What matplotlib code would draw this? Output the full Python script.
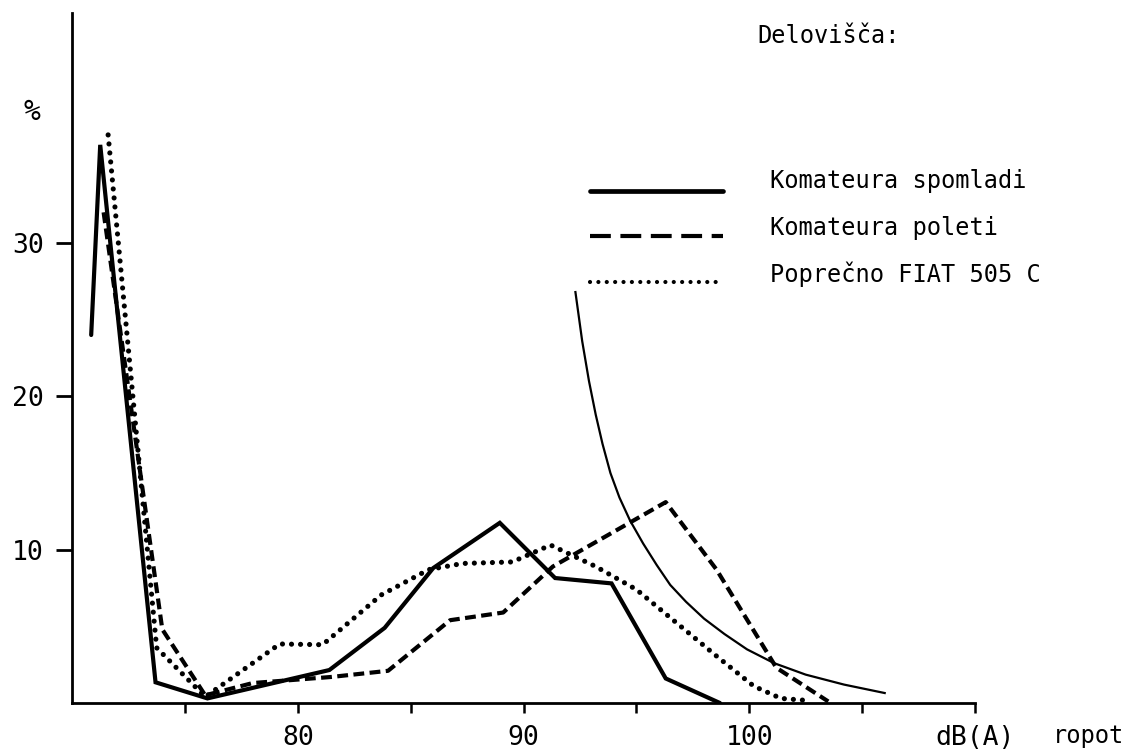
import matplotlib
matplotlib.use("Agg")
import matplotlib.pyplot as plt
from matplotlib.lines import Line2D

# ---- data ----
spomladi_x = [70.85, 71.25, 73.7, 76.0, 81.4, 83.85, 86.0, 88.95, 91.4, 93.9, 96.3, 98.7]
spomladi_y = [24.0, 36.4, 1.35, 0.3, 2.15, 4.9, 8.8, 11.75, 8.15, 7.8, 1.6, 0.0]

poleti_x = [71.4, 74.0, 75.9, 78.0, 81.5, 84.0, 86.75, 89.1, 91.3, 96.3, 98.55, 101.2, 103.5]
poleti_y = [32.0, 4.8, 0.5, 1.3, 1.7, 2.1, 5.4, 5.9, 8.9, 13.1, 8.7, 2.3, 0.1]

fiat_x = [71.6, 73.75, 75.9, 79.2, 81.1, 83.7, 85.8, 87.3, 89.5, 91.2, 93.2, 95.0, 96.8, 98.6, 100.2, 101.4, 102.7]
fiat_y = [37.05, 3.6, 0.4, 3.85, 3.8, 7.05, 8.7, 9.1, 9.2, 10.3, 8.9, 7.4, 5.2, 3.0, 1.1, 0.3, 0.15]

curve_x = [92.3, 92.6, 92.9, 93.2, 93.5, 93.85, 94.25, 94.72, 95.3, 95.9, 96.5, 97.2,
           98.0, 98.9, 99.9, 101.1, 102.5, 104.2, 106.0]
curve_y = [26.8, 23.6, 21.0, 18.8, 16.9, 15.0, 13.4, 11.9, 10.4, 9.0, 7.7, 6.6,
           5.5, 4.5, 3.5, 2.6, 1.85, 1.2, 0.65]

x_ticks = [75, 80, 85, 90, 95, 100, 105, 110]
x_tick_labels = ["", "80", "", "90", "", "100", "", "dB(A)"]
y_ticks = [10, 20, 30]
y_tick_labels = ["10", "20", "30"]

legend_labels = ["Komateura spomladi", "Komateura poleti", "Poprečno FIAT 505 C"]
legend_title = "Delovišča:"
y_unit = "%"
x_name = "ropot"

# ---- figure ----
FONT = "DejaVu Sans Mono"
W, H = 1130, 752
fig = plt.figure(figsize=(W / 100, H / 100), dpi=100)
ax = fig.add_axes([72 / W, 1 - 703 / H, (975 - 72) / W, (703 - 13) / H])
ax.set_xlim(70, 110)
ax.set_ylim(0, 45)

ax.plot(spomladi_x, spomladi_y, color="black", lw=3.0, solid_joinstyle="miter",
        solid_capstyle="round")
ax.plot(poleti_x, poleti_y, color="black", lw=3.0, linestyle=(0, (2.6, 1.3)),
        dash_capstyle="butt")
ax.plot(fiat_x, fiat_y, color="black", lw=3.7, linestyle=(0, (0.01, 1.75)),
        dash_capstyle="round")
ax.plot(curve_x, curve_y, color="black", lw=1.6)

for s in ["top", "right"]:
    ax.spines[s].set_visible(False)
for s in ["left", "bottom"]:
    ax.spines[s].set_linewidth(2.0)
    ax.spines[s].set_color("black")

ax.set_xticks(x_ticks)
ax.set_xticklabels(x_tick_labels, fontfamily=FONT, fontsize=19)
ax.set_yticks(y_ticks)
ax.set_yticklabels(y_tick_labels, fontfamily=FONT, fontsize=19)
ax.tick_params(axis="x", direction="out", length=7.5, width=1.8, pad=8)
ax.tick_params(axis="y", direction="out", length=11.5, width=2.0, pad=9)

# unit and axis name
fig.text(32 / W, 1 - 112 / H, y_unit, fontfamily=FONT, fontsize=20,
         ha="center", va="center")
fig.text(1124 / W, 1 - 736 / H, x_name, fontfamily=FONT, fontsize=17,
         ha="right", va="center")

# legend
fig.text(757 / W, 1 - 43 / H, legend_title, fontfamily=FONT, fontsize=17,
         ha="left", va="baseline")
styles = [
    dict(lw=3.4, linestyle="-", solid_capstyle="round"),
    dict(lw=3.0, linestyle=(0, (5.0, 2.3)), dash_capstyle="butt"),
    dict(lw=3.0, linestyle=(0, (0.01, 2.0)), dash_capstyle="round"),
]
line_y = [191, 236, 282]
text_y = [188, 235, 282]
for lab, st, ly, ty in zip(legend_labels, styles, line_y, text_y):
    fig.add_artist(Line2D([590 / W, 723 / W], [1 - ly / H, 1 - ly / H],
                          transform=fig.transFigure, color="black", **st))
    fig.text(770 / W, 1 - ty / H, lab, fontfamily=FONT, fontsize=17,
             ha="left", va="baseline")

fig.savefig("out.png", dpi=100)
